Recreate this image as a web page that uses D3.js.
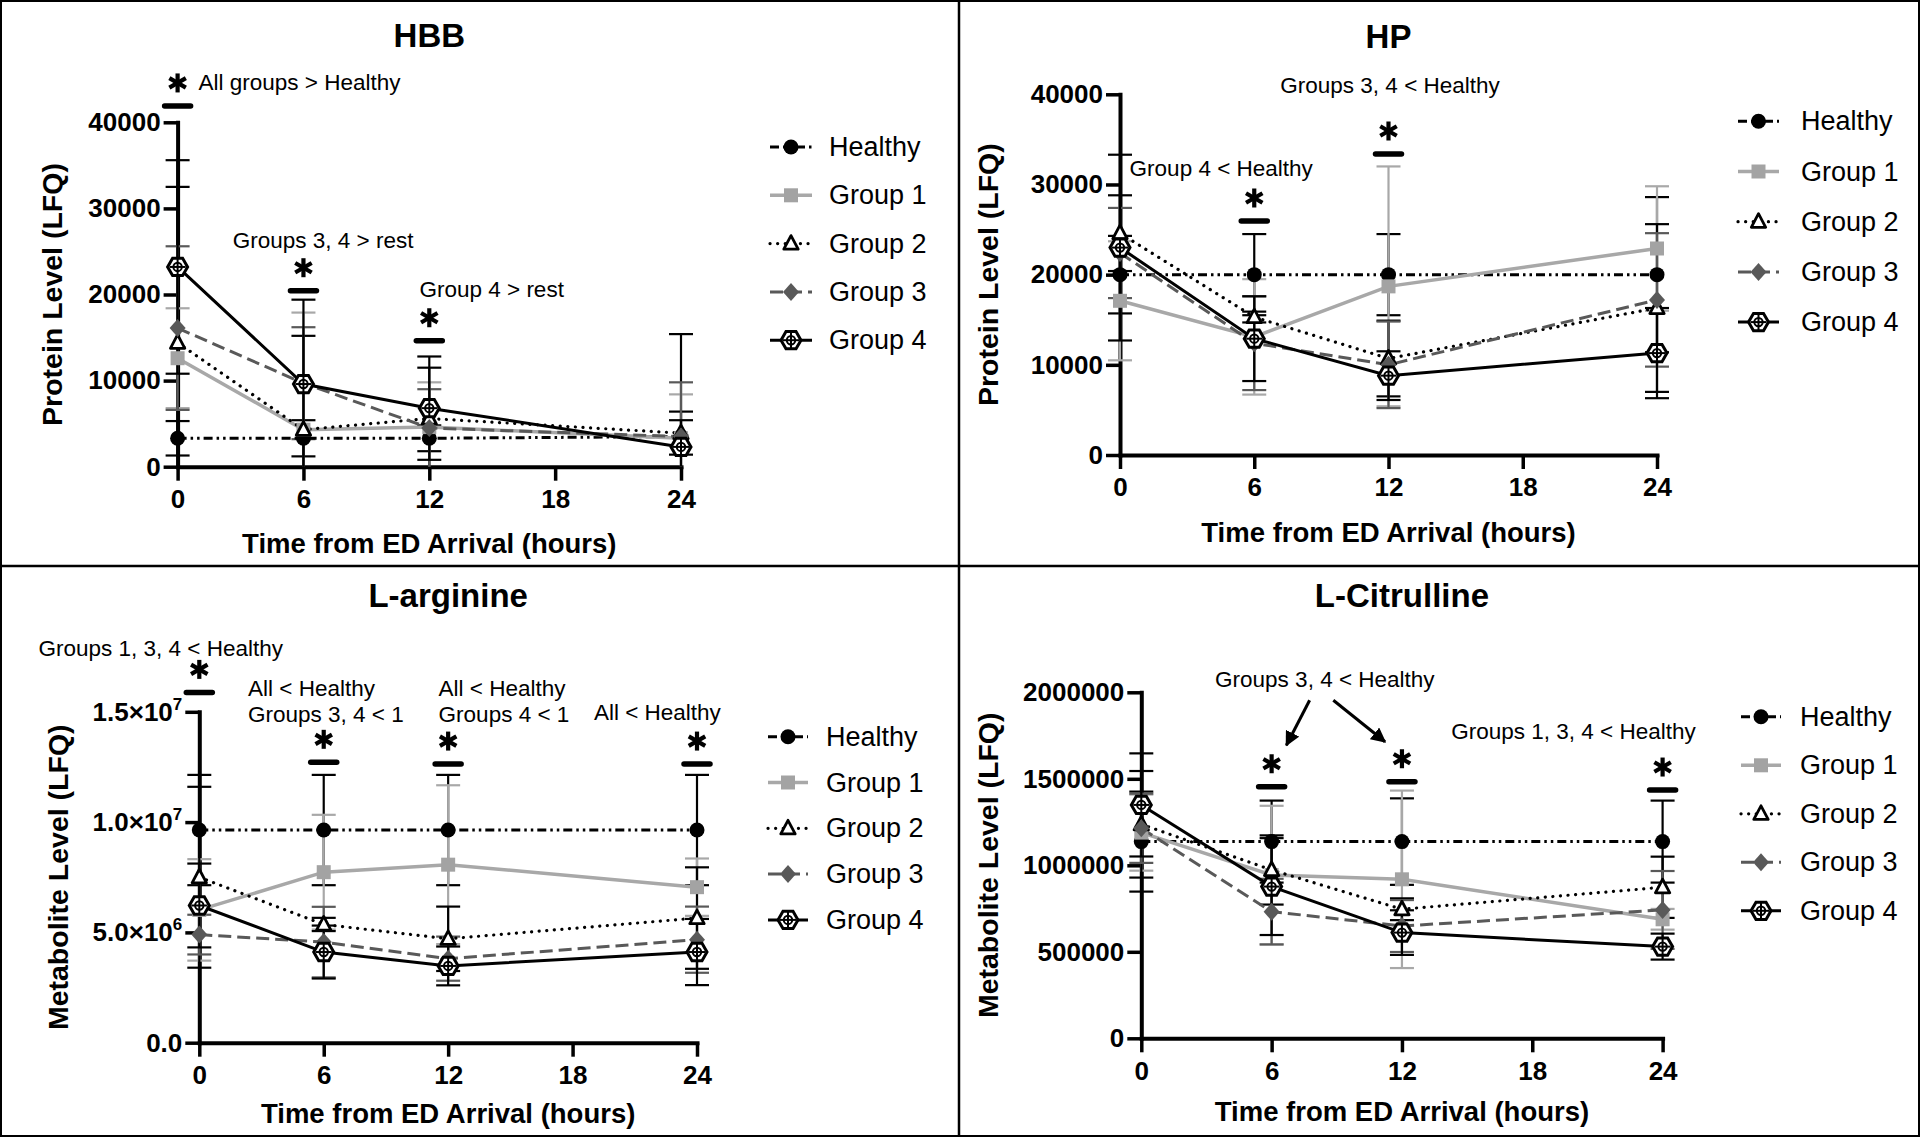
<!DOCTYPE html>
<html><head><meta charset="utf-8">
<script src="https://cdn.jsdelivr.net/npm/d3@7"></script>
<style>body{margin:0;background:#fff}svg{display:block}</style>
</head><body><svg id="c" width="1920" height="1137"></svg>
<script>
// ---------------- DATA ----------------
const times = [0, 6, 12, 24];
const xTicks = [0, 6, 12, 18, 24];
const seriesNames = ["Healthy", "Group 1", "Group 2", "Group 3", "Group 4"];

// HBB (protein, LFQ)
const hbbTicks = [0, 10000, 20000, 30000, 40000];
const hbbTickLabels = ["0", "10000", "20000", "30000", "40000"];
const hbbHealthy = [3300, 3300, 3300, 3500];
const hbbGroup1 = [12600, 4300, 4600, 3300];
const hbbGroup2 = [14400, 4300, 5600, 3900];
const hbbGroup3 = [16100, 9700, 4500, 3500];
const hbbGroup4 = [23200, 9600, 6800, 2300];
const hbbHealthySD = [2000, 2100, 1500, 11900];
const hbbGroup1SD = [5800, 13600, 5200, 5100];
const hbbGroup2SD = [18100, 10900, 5900, 2500];
const hbbGroup3SD = [9500, 6500, 4500, 6300];
const hbbGroup4SD = [12400, 9800, 6000, 3100];

// HP (protein, LFQ)
const hpTicks = [0, 10000, 20000, 30000, 40000];
const hpTickLabels = ["0", "10000", "20000", "30000", "40000"];
const hpHealthy = [20000, 20000, 20000, 20000];
const hpGroup1 = [17100, 13100, 18700, 22900];
const hpGroup2 = [24600, 15300, 10700, 16300];
const hpGroup3 = [22400, 12400, 10000, 17200];
const hpGroup4 = [23000, 12900, 8800, 11300];
const hpHealthySD = [4300, 4500, 4500, 8600];
const hpGroup1SD = [6600, 6400, 13300, 6900];
const hpGroup2SD = [4200, 600, 4200, 9300];
const hpGroup3SD = [5000, 5200, 4800, 7400];
const hpGroup4SD = [10300, 4700, 2700, 5000];

// L-arginine (metabolite, LFQ)
const argTicks = [0, 5e6, 1e7, 1.5e7];
const argTickLabels = ["0.0", "5.0×10^6", "1.0×10^7", "1.5×10^7"];
const argHealthy = [9.64e6, 9.64e6, 9.64e6, 9.64e6];
const argGroup1 = [6.02e6, 7.73e6, 8.07e6, 7.05e6];
const argGroup2 = [7.5e6, 5.36e6, 4.71e6, 5.65e6];
const argGroup3 = [4.9e6, 4.56e6, 3.81e6, 4.67e6];
const argGroup4 = [6.22e6, 4.11e6, 3.48e6, 4.11e6];
const argHealthySD = [2.5e6, 2.5e6, 2.5e6, 2.5e6];
const argGroup1SD = [2.3e6, 2.6e6, 3.6e6, 1.3e6];
const argGroup2SD = [4.1e6, 0.3e6, 1.46e6, 2.3e6];
const argGroup3SD = [0.9e6, 1.6e6, 1.0e6, 1.5e6];
const argGroup4SD = [1.9e6, 1.2e6, 0.88e6, 1.5e6];

// L-Citrulline (metabolite, LFQ)
const citTicks = [0, 500000, 1000000, 1500000, 2000000];
const citTickLabels = ["0", "500000", "1000000", "1500000", "2000000"];
const citHealthy = [1137000, 1137000, 1137000, 1137000];
const citGroup1 = [1189000, 944000, 919000, 688000];
const citGroup2 = [1237000, 973000, 746000, 873000];
const citGroup3 = [1214000, 732000, 649000, 742000];
const citGroup4 = [1349000, 877000, 611000, 530000];
const citHealthySD = [289000, 237000, 250000, 237000];
const citGroup1SD = [220000, 400000, 513000, 60000];
const citGroup2SD = [308000, 200000, 63000, 177000];
const citGroup3SD = [200000, 190000, 150000, 225000];
const citGroup4SD = [298000, 280000, 129000, 75000];

// significance annotations (text)
const hbbNotes = ["All groups > Healthy", "Groups 3, 4 > rest", "Group 4 > rest"];
const hpNotes = ["Groups 3, 4 < Healthy", "Group 4 < Healthy"];
const argNotes = ["Groups 1, 3, 4 < Healthy", "All < Healthy", "Groups 3, 4 < 1", "All < Healthy", "Groups 4 < 1", "All < Healthy"];
const citNotes = ["Groups 3, 4 < Healthy", "Groups 1, 3, 4 < Healthy"];

// ---------------- STYLES ----------------
const seriesStyle = [
  {color: "#000", width: 3, dash: "9,4,2.5,4,2.5,4", marker: "circle", err: "#000"},
  {color: "#a8a8a8", width: 3.5, dash: null, marker: "square", err: "#a8a8a8"},
  {color: "#000", width: 3.2, dash: "0.1,7.5", cap: "round", marker: "triangle", err: "#000"},
  {color: "#595959", width: 3, dash: "13,6", marker: "diamond", err: "#595959"},
  {color: "#000", width: 3, dash: null, marker: "hexagon", err: "#000"}
];
const FONT = "'Liberation Sans', Arial, Helvetica, sans-serif";

const svg = d3.select("#c");
svg.append("rect").attr("width", 1920).attr("height", 1137).attr("fill", "#fff");

const panels = [
  {title: "HBB", yLabel: "Protein Level (LFQ)", yMax: 40000, ticks: hbbTicks, tickLabels: hbbTickLabels,
   means: [hbbHealthy, hbbGroup1, hbbGroup2, hbbGroup3, hbbGroup4],
   sds: [hbbHealthySD, hbbGroup1SD, hbbGroup2SD, hbbGroup3SD, hbbGroup4SD],
   x0: 177.6, x1: 681, y0: 466.7, y1: 122.3, titleY: 35, xTitleY: 543, yTitleX: 52,
   legend: {lx0: 770, lx1: 812, tx: 829, y: 147, dy: 48.3},
   bars: [{t: 0, v: 41900}, {t: 6, v: 20440}, {t: 12, v: 14630}],
   texts: [{lines: [hbbNotes[0]], t: 1.0, v: 44680, anchor: "start"},
           {lines: [hbbNotes[1]], t: 2.63, v: 26330, anchor: "start"},
           {lines: [hbbNotes[2]], t: 11.53, v: 20640, anchor: "start"}],
   arrows: []},
  {title: "HP", yLabel: "Protein Level (LFQ)", yMax: 40000, ticks: hpTicks, tickLabels: hpTickLabels,
   means: [hpHealthy, hpGroup1, hpGroup2, hpGroup3, hpGroup4],
   sds: [hpHealthySD, hpGroup1SD, hpGroup2SD, hpGroup3SD, hpGroup4SD],
   x0: 1120, x1: 1657, y0: 455, y1: 94.3, titleY: 36, xTitleY: 532, yTitleX: 988,
   legend: {lx0: 1738, lx1: 1779, tx: 1801, y: 121.3, dy: 50.2},
   bars: [{t: 6, v: 25950}, {t: 12, v: 33380}],
   texts: [{lines: [hpNotes[0]], t: 12.07, v: 41030, anchor: "middle"},
           {lines: [hpNotes[1]], t: 0.43, v: 31790, anchor: "start"}],
   arrows: []},
  {title: "L-arginine", yLabel: "Metabolite Level (LFQ)", yMax: 1.5e7, ticks: argTicks, tickLabels: argTickLabels,
   means: [argHealthy, argGroup1, argGroup2, argGroup3, argGroup4],
   sds: [argHealthySD, argGroup1SD, argGroup2SD, argGroup3SD, argGroup4SD],
   x0: 199.3, x1: 697, y0: 1042.7, y1: 711.8, titleY: 595, xTitleY: 1113, yTitleX: 58,
   legend: {lx0: 768, lx1: 808, tx: 826, y: 736.7, dy: 45.8},
   bars: [{t: 0, v: 15.88e6}, {t: 6, v: 12.71e6}, {t: 12, v: 12.63e6}, {t: 24, v: 12.63e6}],
   texts: [{lines: [argNotes[0]], t: -1.86, v: 17.87e6, anchor: "middle"},
           {lines: [argNotes[1], argNotes[2]], t: 2.35, v: 16.07e6, anchor: "start"},
           {lines: [argNotes[3], argNotes[4]], t: 11.54, v: 16.07e6, anchor: "start"},
           {lines: [argNotes[5]], t: 19.03, v: 15.0e6, anchor: "start"}],
   arrows: []},
  {title: "L-Citrulline", yLabel: "Metabolite Level (LFQ)", yMax: 2000000, ticks: citTicks, tickLabels: citTickLabels,
   means: [citHealthy, citGroup1, citGroup2, citGroup3, citGroup4],
   sds: [citHealthySD, citGroup1SD, citGroup2SD, citGroup3SD, citGroup4SD],
   x0: 1141.3, x1: 1662.6, y0: 1038.3, y1: 692.3, titleY: 595, xTitleY: 1111, yTitleX: 988,
   legend: {lx0: 1741, lx1: 1781, tx: 1800, y: 716.8, dy: 48.5},
   bars: [{t: 6, v: 1.454e6}, {t: 12, v: 1.483e6}, {t: 24, v: 1.435e6}],
   texts: [{lines: [citNotes[0]], t: 8.45, v: 2.075e6, anchor: "middle"},
           {lines: [citNotes[1]], t: 14.27, v: 1.778e6, anchor: "start"}],
   arrows: [{t0: 7.75, v0: 1.954e6, t1: 6.68, v1: 1.694e6}, {t0: 8.84, v0: 1.954e6, t1: 11.22, v1: 1.714e6}]}
];

// arrow marker
svg.append("defs").append("marker").attr("id", "ah").attr("viewBox", "0 0 10 10")
  .attr("refX", 9).attr("refY", 5).attr("markerWidth", 5).attr("markerHeight", 5)
  .attr("markerUnits", "strokeWidth").attr("orient", "auto")
  .append("path").attr("d", "M0,0 L10,5 L0,10 z").attr("fill", "#000");

function drawMarker(g, type, cx, cy, st) {
  if (type === "circle") {
    g.append("circle").attr("cx", cx).attr("cy", cy).attr("r", 7.5).attr("fill", "#000");
  } else if (type === "square") {
    g.append("rect").attr("x", cx - 7).attr("y", cy - 7).attr("width", 14).attr("height", 14).attr("fill", "#a3a3a3");
  } else if (type === "triangle") {
    const s = 8;
    g.append("path").attr("d", `M${cx},${cy - s} L${cx + s * 0.9},${cy + s * 0.7} L${cx - s * 0.9},${cy + s * 0.7} Z`)
      .attr("fill", "#fff").attr("stroke", "#000").attr("stroke-width", 2.8).attr("stroke-linejoin", "round");
  } else if (type === "diamond") {
    g.append("path").attr("d", `M${cx},${cy - 9} L${cx + 8},${cy} L${cx},${cy + 9} L${cx - 8},${cy} Z`).attr("fill", "#595959");
  } else if (type === "hexagon") {
    const r = 10;
    const pts = d3.range(6).map(k => {
      const a = Math.PI / 3 * k;
      return [cx + r * Math.cos(a), cy + r * Math.sin(a)];
    });
    g.append("path").attr("d", "M" + pts.map(p => p.join(",")).join("L") + "Z")
      .attr("fill", "#fff").attr("stroke", "#000").attr("stroke-width", 3);
    g.append("circle").attr("cx", cx).attr("cy", cy).attr("r", 4.2).attr("fill", "none").attr("stroke", "#000").attr("stroke-width", 2);
    g.append("line").attr("x1", cx).attr("x2", cx).attr("y1", cy - 8).attr("y2", cy + 8).attr("stroke", "#000").attr("stroke-width", 2);
    g.append("line").attr("x1", cx - 8).attr("x2", cx + 8).attr("y1", cy).attr("y2", cy).attr("stroke", "#000").attr("stroke-width", 2);
  }
}

function asterisk(g, cx, cy) {
  const r = 9.5;
  [90, 30, 150].forEach(a => {
    const rad = a * Math.PI / 180;
    g.append("line").attr("x1", cx - r * Math.cos(rad)).attr("y1", cy - r * Math.sin(rad))
      .attr("x2", cx + r * Math.cos(rad)).attr("y2", cy + r * Math.sin(rad))
      .attr("stroke", "#000").attr("stroke-width", 4.2);
  });
}

function setTickText(sel, label) {
  sel.text(null);
  const parts = label.split("^");
  sel.append("tspan").text(parts[0]);
  if (parts.length > 1) {
    sel.append("tspan").attr("dy", -11).attr("font-size", 17).text(parts[1]);
  }
}

panels.forEach(p => {
  const g = svg.append("g");
  const x = d3.scaleLinear().domain([0, 24]).range([p.x0, p.x1]);
  const y = d3.scaleLinear().domain([0, p.yMax]).range([p.y0, p.y1]);

  // title
  g.append("text").attr("x", (p.x0 + p.x1) / 2).attr("y", p.titleY).attr("text-anchor", "middle")
    .attr("dominant-baseline", "central").attr("font-family", FONT).attr("font-weight", "bold")
    .attr("font-size", 33).text(p.title);

  // axes
  const yAxis = d3.axisLeft(y).tickValues(p.ticks).tickSize(14).tickSizeOuter(0).tickPadding(3)
    .tickFormat((d, i) => p.tickLabels[i]);
  const xAxis = d3.axisBottom(x).tickValues(xTicks).tickSize(14).tickSizeOuter(0).tickPadding(9)
    .tickFormat(d3.format("d"));
  const ga = g.append("g");
  const gx = ga.append("g").attr("transform", `translate(0,${p.y0})`).call(xAxis);
  const gy = ga.append("g").attr("transform", `translate(${p.x0},0)`).call(yAxis);
  [gx, gy].forEach(a => {
    a.select(".domain").attr("stroke", "#000").attr("stroke-width", 4).attr("stroke-linecap", "square");
    a.selectAll(".tick line").attr("stroke", "#000").attr("stroke-width", 3.5);
    a.selectAll(".tick text").attr("font-family", FONT).attr("font-weight", "bold").attr("font-size", 26).attr("fill", "#000");
  });
  gy.selectAll(".tick text").each(function (d, i) { setTickText(d3.select(this), p.tickLabels[i]); });

  // axis titles
  g.append("text").attr("x", (p.x0 + p.x1) / 2).attr("y", p.xTitleY).attr("text-anchor", "middle")
    .attr("dominant-baseline", "central").attr("font-family", FONT).attr("font-weight", "bold")
    .attr("font-size", 27.5).text("Time from ED Arrival (hours)");
  g.append("text").attr("transform", `translate(${p.yTitleX},${(p.y0 + p.y1) / 2}) rotate(-90)`)
    .attr("text-anchor", "middle").attr("dominant-baseline", "central").attr("font-family", FONT)
    .attr("font-weight", "bold").attr("font-size", 28.5).text(p.yLabel);

  // error bars
  p.means.forEach((m, si) => {
    const st = seriesStyle[si];
    const sd = p.sds[si];
    const sg = g.append("g");
    times.forEach((t, i) => {
      const hi = m[i] + sd[i];
      const loRaw = m[i] - sd[i];
      const lo = Math.max(0, loRaw);
      sg.append("line").attr("x1", x(t)).attr("x2", x(t)).attr("y1", y(lo)).attr("y2", y(hi))
        .attr("stroke", st.err).attr("stroke-width", 2.2);
      sg.append("line").attr("x1", x(t) - 12).attr("x2", x(t) + 12).attr("y1", y(hi)).attr("y2", y(hi))
        .attr("stroke", st.err).attr("stroke-width", 2.2);
      if (loRaw > 0) {
        sg.append("line").attr("x1", x(t) - 12).attr("x2", x(t) + 12).attr("y1", y(lo)).attr("y2", y(lo))
          .attr("stroke", st.err).attr("stroke-width", 2.2);
      }
    });
  });
  // lines
  p.means.forEach((m, si) => {
    const st = seriesStyle[si];
    const line = d3.line().x((d, i) => x(times[i])).y(d => y(d));
    g.append("path").attr("d", line(m)).attr("fill", "none").attr("stroke", st.color)
      .attr("stroke-width", st.width).attr("stroke-dasharray", st.dash)
      .attr("stroke-linecap", st.cap || "butt");
  });
  // markers
  p.means.forEach((m, si) => {
    const st = seriesStyle[si];
    times.forEach((t, i) => drawMarker(g, st.marker, x(t), y(m[i]), st));
  });

  // significance bars + asterisks
  p.bars.forEach(b => {
    g.append("line").attr("x1", x(b.t) - 13).attr("x2", x(b.t) + 13).attr("y1", y(b.v)).attr("y2", y(b.v))
      .attr("stroke", "#000").attr("stroke-width", 5.5).attr("stroke-linecap", "round");
    asterisk(g, x(b.t), y(b.v) - 23);
  });
  p.texts.forEach(tx => {
    const t = g.append("text").attr("x", x(tx.t)).attr("y", y(tx.v)).attr("text-anchor", tx.anchor)
      .attr("dominant-baseline", "central").attr("font-family", FONT).attr("font-size", 22.5).attr("fill", "#000");
    tx.lines.forEach((ln, k) => t.append("tspan").attr("x", x(tx.t)).attr("dy", k === 0 ? 0 : 25.5).text(ln));
  });
  p.arrows.forEach(a => {
    g.append("line").attr("x1", x(a.t0)).attr("y1", y(a.v0)).attr("x2", x(a.t1)).attr("y2", y(a.v1))
      .attr("stroke", "#000").attr("stroke-width", 3).attr("marker-end", "url(#ah)");
  });

  // legend
  const L = p.legend;
  seriesNames.forEach((name, si) => {
    const st = seriesStyle[si];
    const ly = L.y + si * L.dy;
    g.append("line").attr("x1", L.lx0).attr("x2", L.lx1).attr("y1", ly).attr("y2", ly)
      .attr("stroke", st.color).attr("stroke-width", st.width).attr("stroke-dasharray", st.dash)
      .attr("stroke-linecap", st.cap || "butt");
    drawMarker(g, st.marker, (L.lx0 + L.lx1) / 2, ly, st);
    g.append("text").attr("x", L.tx).attr("y", ly).attr("dominant-baseline", "central")
      .attr("font-family", FONT).attr("font-size", 27).attr("fill", "#000").text(name);
  });
});

// panel frame
svg.append("rect").attr("x", 1).attr("y", 1).attr("width", 1918).attr("height", 1135)
  .attr("fill", "none").attr("stroke", "#000").attr("stroke-width", 2);
svg.append("line").attr("x1", 959).attr("x2", 959).attr("y1", 0).attr("y2", 1137).attr("stroke", "#000").attr("stroke-width", 2.5);
svg.append("line").attr("x1", 0).attr("x2", 1920).attr("y1", 566).attr("y2", 566).attr("stroke", "#000").attr("stroke-width", 2.5);
</script>
</body></html>
